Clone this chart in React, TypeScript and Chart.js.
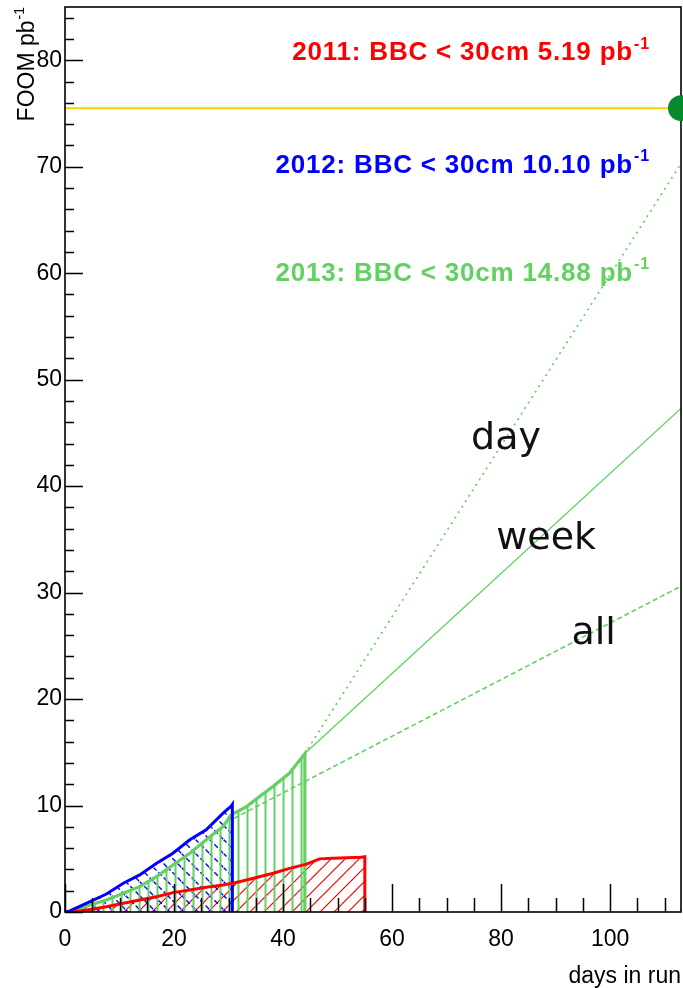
import React, { useEffect, useRef } from 'react';
import { Chart, registerables } from 'chart.js';

Chart.register(...registerables);

// ---------- data ----------
const redDays = [1.5, 4, 7.6, 10.7, 13.7, 16.8, 19.8, 22.9, 25.9, 29, 30.8, 33.3, 38.2, 41.2, 44.3, 46.7, 49.1, 54.3, 55, 55];
const redValues = [0, 0.19, 0.5, 0.82, 1.13, 1.44, 1.82, 2.07, 2.32, 2.54, 2.7, 3.0, 3.64, 4.1, 4.5, 4.99, 5.05, 5.15, 5.19, 0];

const blueDays = [0, 0.9, 4.6, 7.6, 10.7, 13.7, 16.8, 19.8, 22.9, 25.9, 29, 30.5, 30.7, 30.7];
const blueValues = [0, 0.1, 0.97, 1.69, 2.7, 3.48, 4.58, 5.52, 6.78, 7.72, 9.29, 9.95, 10.1, 0];

const greenDays = [0, 0.9, 4.6, 7.6, 10.7, 13.7, 16.8, 19.8, 22.9, 25.9, 29, 30.5, 33.3, 35.7, 38.2, 41.2, 44, 44];
const greenValues = [0, 0.03, 0.66, 1.13, 1.76, 2.38, 3.32, 4.42, 5.52, 6.78, 8.03, 9.13, 9.9, 10.85, 11.8, 13.05, 14.88, 0];

const dayProjDays = [44, 113];
const dayProjValues = [14.88, 70.3];
const weekProjDays = [44, 113];
const weekProjValues = [14.88, 47.3];
const allProjDays = [31, 113];
const allProjValues = [8.8, 30.6];

const goalDays = [0, 113];
const goalValues = [75.5, 75.5];
const dotDays = [113];
const dotValues = [75.5];

const xMin = 0;
const xMax = 113;
const yMin = 0;
const yMax = 85;
const xMajorStep = 20;
const xMinorStep = 5;
const yMajorStep = 10;
const yMinorStep = 2;

const yearLabels = ['2011: BBC < 30cm 5.19 pb', '2012: BBC < 30cm 10.10 pb', '2013: BBC < 30cm 14.88 pb'];
const yearLabelSup = '-1';
const yearLabelX = 107.1;
const yearLabelY = [80.0, 69.4, 59.3];

const projLabels = ['day', 'week', 'all'];
const projLabelX = [74.5, 79.1, 92.9];
const projLabelY = [43.5, 34.1, 25.2];

const yTitle = 'FOOM pb';
const yTitleSup = '-1';
const xTitle = 'days in run';

// ---------- styles ----------
const RED = '#ff0000';
const BLUE = '#0000ff';
const GREEN = '#62d162';
const GOLD = '#ffcc00';
const DOT = '#078a2c';
const FONT = '"Liberation Sans", Arial, Helvetica, sans-serif';
const LABEL_FONT = '"DejaVu Sans", sans-serif';

type Pt = { x: number; y: number };
const pts = (xs: number[], ys: number[]): Pt[] => xs.map((x, i) => ({ x, y: ys[i] }));

function makePattern(
  ctx: CanvasRenderingContext2D,
  kind: 'slash' | 'backslash' | 'vertical',
  color: string,
  s: number,
  width: number,
  dash?: number[]
): CanvasPattern | string {
  const c = document.createElement('canvas');
  c.width = s;
  c.height = s;
  const g = c.getContext('2d');
  if (!g) return color;
  g.strokeStyle = color;
  g.lineWidth = width;
  if (dash) g.setLineDash(dash);
  g.beginPath();
  if (kind === 'vertical') {
    g.moveTo(s / 2, 0);
    g.lineTo(s / 2, s);
  } else if (kind === 'slash') {
    g.moveTo(-1, s + 1);
    g.lineTo(s + 1, -1);
    g.moveTo(-2, 2);
    g.lineTo(2, -2);
    g.moveTo(s - 2, s + 2);
    g.lineTo(s + 2, s - 2);
  } else {
    g.moveTo(-1, -1);
    g.lineTo(s + 1, s + 1);
    g.moveTo(s - 2, -2);
    g.lineTo(s + 2, 2);
    g.moveTo(-2, s - 2);
    g.lineTo(2, s + 2);
  }
  g.stroke();
  return ctx.createPattern(c, 'repeat') || color;
}

function drawSupText(
  ctx: CanvasRenderingContext2D,
  main: string,
  sup: string,
  xRight: number,
  baseline: number,
  size: number,
  bold: boolean,
  color: string,
  spacing: string
) {
  const w = bold ? 'bold ' : '';
  const supSize = Math.round(size * 0.62);
  ctx.save();
  ctx.fillStyle = color;
  (ctx as any).letterSpacing = spacing;
  ctx.textBaseline = 'alphabetic';
  ctx.textAlign = 'left';
  ctx.font = `${w}${supSize}px ${FONT}`;
  const ws = ctx.measureText(sup).width;
  ctx.font = `${w}${size}px ${FONT}`;
  const wm = ctx.measureText(main).width;
  const x0 = xRight - ws - wm;
  ctx.fillText(main, x0, baseline);
  ctx.font = `${w}${supSize}px ${FONT}`;
  ctx.fillText(sup, x0 + wm + 1, baseline - size * 0.45);
  ctx.restore();
}

const rootPlugin = {
  id: 'rootStyle',
  beforeDatasetDraw(chart: any, args: any) {
    if (args.index !== 0) return;
    const { ctx, chartArea, scales } = chart;
    const { left, right, top, bottom } = chartArea;
    const xs = scales.x;
    const ys = scales.y;
    ctx.save();
    ctx.strokeStyle = '#000';
    ctx.lineWidth = 1.5;
    ctx.beginPath();
    for (let v = xMin; v <= xMax + 1e-9; v += xMinorStep) {
      const px = Math.round(xs.getPixelForValue(v)) + 0.5;
      const len = v % xMajorStep === 0 ? 28 : 14;
      ctx.moveTo(px, bottom);
      ctx.lineTo(px, bottom - len);
    }
    for (let v = yMin; v <= yMax + 1e-9; v += yMinorStep) {
      const py = Math.round(ys.getPixelForValue(v)) + 0.5;
      const len = v % yMajorStep === 0 ? 18 : 9;
      ctx.moveTo(left, py);
      ctx.lineTo(left + len, py);
    }
    ctx.stroke();
    ctx.lineWidth = 1.6;
    ctx.strokeRect(left, top, right - left, bottom - top);
    ctx.restore();
  },
  afterDraw(chart: any) {
    const { ctx, chartArea, scales } = chart;
    const xs = scales.x;
    const ys = scales.y;
    const colors = [RED, BLUE, GREEN];
    yearLabels.forEach((t, i) => {
      drawSupText(ctx, t, yearLabelSup, xs.getPixelForValue(yearLabelX), ys.getPixelForValue(yearLabelY[i]), 26, true, colors[i], '0.8px');
    });
    ctx.save();
    ctx.fillStyle = '#111';
    ctx.font = `38px ${LABEL_FONT}`;
    ctx.textAlign = 'left';
    ctx.textBaseline = 'alphabetic';
    projLabels.forEach((t, i) => {
      ctx.fillText(t, xs.getPixelForValue(projLabelX[i]), ys.getPixelForValue(projLabelY[i]));
    });
    ctx.restore();

    // x title
    ctx.save();
    ctx.fillStyle = '#000';
    ctx.font = `23px ${FONT}`;
    ctx.textAlign = 'right';
    ctx.textBaseline = 'alphabetic';
    ctx.fillText(xTitle, chartArea.right, 983);
    ctx.restore();

    // y title (rotated)
    ctx.save();
    ctx.translate(34, chartArea.top + 1);
    ctx.rotate(-Math.PI / 2);
    drawSupText(ctx, yTitle, yTitleSup, 0, 0, 23, false, '#000', '0px');
    ctx.restore();
  },
};

export default function App() {
  const ref = useRef<HTMLCanvasElement | null>(null);
  useEffect(() => {
    document.body.style.margin = '0';
    const canvas = ref.current;
    if (!canvas) return;
    const ctx = canvas.getContext('2d');
    if (!ctx) return;
    const redHatch = makePattern(ctx, 'slash', RED, 14, 1.2);
    const blueHatch = makePattern(ctx, 'backslash', BLUE, 14, 1.4, [5, 2.5]);
    const greenHatch = makePattern(ctx, 'vertical', GREEN, 9, 2);
    const none = 'rgba(0,0,0,0)';

    const chart = new Chart(ctx, {
      type: 'scatter',
      data: {
        datasets: [
          { data: pts(dotDays, dotValues), showLine: false, pointRadius: 13, pointBackgroundColor: DOT, pointBorderColor: DOT, pointBorderWidth: 0, clip: false as any, order: 1 },
          { data: pts(goalDays, goalValues), showLine: true, borderColor: GOLD, borderWidth: 2, pointRadius: 0, order: 2 },
          { data: pts(redDays, redValues), showLine: true, borderColor: RED, borderWidth: 3, pointRadius: 0, fill: false, order: 3 },
          { data: pts(blueDays, blueValues), showLine: true, borderColor: BLUE, borderWidth: 3, pointRadius: 0, fill: false, order: 4 },
          { data: pts(greenDays, greenValues), showLine: true, borderColor: GREEN, borderWidth: 3.2, pointRadius: 0, fill: false, order: 5 },
          { data: pts(dayProjDays, dayProjValues), showLine: true, borderColor: GREEN, borderWidth: 1.8, borderDash: [0.5, 6], borderCapStyle: 'round', pointRadius: 0, order: 6 },
          { data: pts(weekProjDays, weekProjValues), showLine: true, borderColor: GREEN, borderWidth: 1.4, pointRadius: 0, order: 6 },
          { data: pts(allProjDays, allProjValues), showLine: true, borderColor: GREEN, borderWidth: 1.6, borderDash: [5, 3], pointRadius: 0, order: 6 },
          { data: pts(greenDays, greenValues), showLine: true, borderColor: none, borderWidth: 1, backgroundColor: greenHatch as any, fill: 'origin', pointRadius: 0, order: 7 },
          { data: pts(blueDays, blueValues), showLine: true, borderColor: none, borderWidth: 1, backgroundColor: blueHatch as any, fill: 'origin', pointRadius: 0, order: 8 },
          { data: pts(redDays, redValues), showLine: true, borderColor: none, borderWidth: 1, backgroundColor: redHatch as any, fill: 'origin', pointRadius: 0, order: 9 },
        ] as any,
      },
      options: {
        animation: false,
        responsive: false,
        events: [],
        layout: { autoPadding: false, padding: { top: 7, right: 2, left: 0, bottom: 0 } },
        plugins: { legend: { display: false }, tooltip: { enabled: false } },
        scales: {
          x: {
            type: 'linear',
            min: xMin,
            max: xMax,
            grid: { display: false, drawTicks: false },
            border: { display: false },
            ticks: { stepSize: xMajorStep, includeBounds: false, color: '#000', font: { family: FONT, size: 23 }, padding: 14, maxRotation: 0, autoSkip: false },
            afterFit: (s: any) => { s.height = 76; s.paddingLeft = 0; s.paddingRight = 0; },
          },
          y: {
            type: 'linear',
            min: yMin,
            max: yMax,
            grid: { display: false, drawTicks: false },
            border: { display: false },
            ticks: { stepSize: yMajorStep, includeBounds: false, color: '#000', font: { family: FONT, size: 23 }, padding: 3, autoSkip: false },
            afterFit: (s: any) => { s.width = 65; s.paddingTop = 0; s.paddingBottom = 0; },
          },
        },
      } as any,
      plugins: [rootPlugin],
    });
    return () => chart.destroy();
  }, []);
  return <canvas ref={ref} width={683} height={988} style={{ display: 'block', width: 683, height: 988 }} />;
}
